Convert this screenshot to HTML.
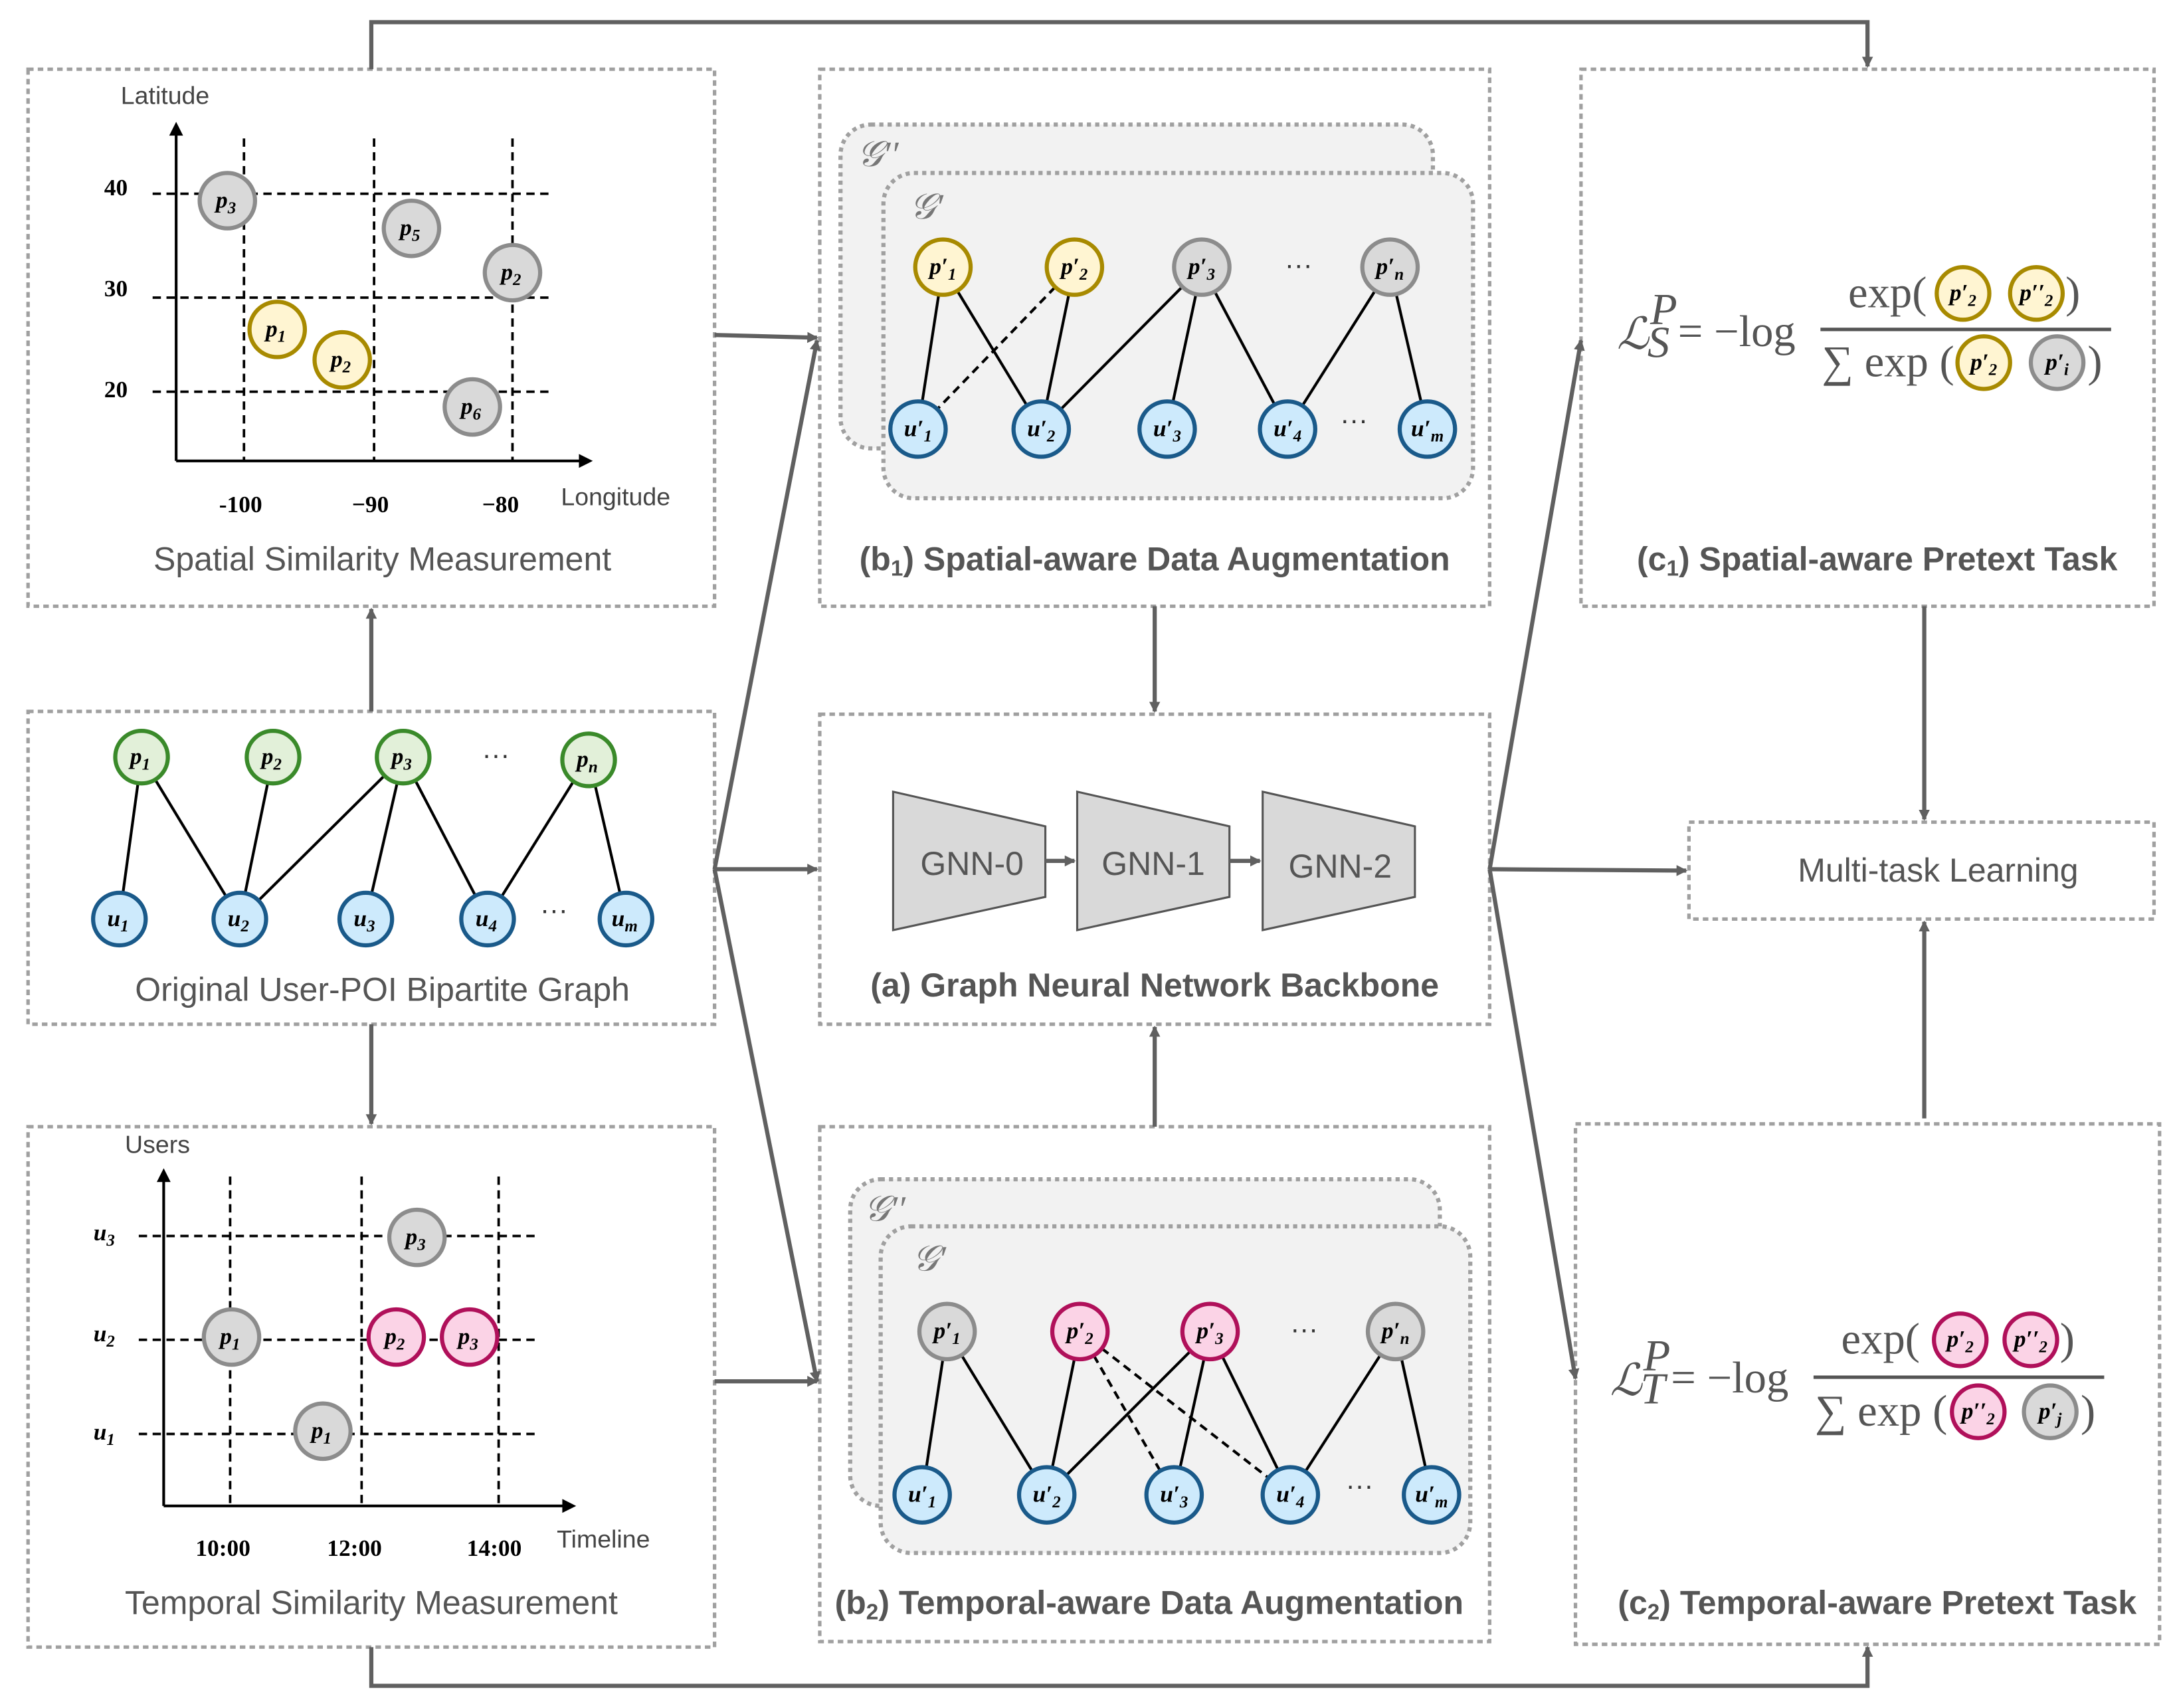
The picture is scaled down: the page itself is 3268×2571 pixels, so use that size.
<!DOCTYPE html>
<html><head><meta charset="utf-8"><style>
html,body{margin:0;padding:0;background:#fff;}
svg{display:block;}
.bx{fill:none;stroke:#a0a0a0;stroke-width:2.5;stroke-dasharray:4 3;}
.cn{stroke:#606060;stroke-width:3;fill:none;}
.ed{stroke:#000;stroke-width:2;}
.dd{stroke:#000;stroke-width:2;stroke-dasharray:6 4;}
.ax{stroke:#000;stroke-width:2;}
.gd{stroke:#000;stroke-width:1.8;stroke-dasharray:6 4;}
.g{fill:#d9d9d9;stroke:#8c8c8c;stroke-width:3;}
.y{fill:#fff5d2;stroke:#a88a00;stroke-width:3;}
.gr{fill:#e2f0d9;stroke:#3a8a2a;stroke-width:3;}
.b{fill:#cdeafc;stroke:#1a5a8a;stroke-width:3;}
.pk{fill:#fbd3e6;stroke:#b0105a;stroke-width:3;}
.nl{font-family:"Liberation Serif",serif;font-style:italic;font-weight:bold;font-size:17px;text-anchor:middle;fill:#000;}
.sb{font-size:12px;}
.tt{font-family:"Liberation Sans",sans-serif;font-size:24px;fill:#555;text-anchor:middle;}
.tb{font-family:"Liberation Sans",sans-serif;font-size:24px;font-weight:bold;fill:#555;text-anchor:middle;}
.lb{font-family:"Liberation Sans",sans-serif;font-size:18px;fill:#444;}
.num{font-family:"Liberation Serif",serif;font-size:17px;font-weight:bold;fill:#000;}
.fm{font-family:"Liberation Serif",serif;font-size:32px;fill:#555;}
.dots{font-family:"Liberation Sans",sans-serif;font-size:20px;fill:#333;text-anchor:middle;}
.gl{font-family:"Liberation Serif",serif;font-style:italic;font-size:26px;fill:#777;}
.gn{fill:#d9d9d9;stroke:#555;stroke-width:1.5;}
</style></head><body>
<svg width="3268" height="2571" viewBox="0 0 1568 1234" xmlns="http://www.w3.org/2000/svg">
<defs><marker id="ar" markerWidth="8" markerHeight="8" refX="7" refY="4" orient="auto" markerUnits="userSpaceOnUse"><path d="M0,0 L8,4 L0,8 Z" fill="#606060"/></marker></defs>

<rect class="bx" x="20" y="50" width="496" height="388"/>
<rect class="bx" x="20" y="514" width="496" height="226"/>
<rect class="bx" x="20" y="814" width="496" height="376"/>
<rect class="bx" x="592" y="50" width="484" height="388"/>
<rect class="bx" x="592" y="516" width="484" height="224"/>
<rect class="bx" x="592" y="814" width="484" height="372"/>
<rect class="bx" x="1142" y="50" width="414" height="388"/>
<rect class="bx" x="1220" y="594" width="336" height="70"/>
<rect class="bx" x="1138" y="812" width="422" height="376"/>

<path class="cn" d="M268,50 V16 H1349 V48" marker-end="url(#ar)"/>
<path class="cn" d="M268,1190 V1218 H1349 V1190" marker-end="url(#ar)"/>
<path class="cn" d="M268,514 V440" marker-end="url(#ar)"/>
<path class="cn" d="M268,740 V812" marker-end="url(#ar)"/>
<path class="cn" d="M516,242 L590,244" marker-end="url(#ar)"/>
<path class="cn" d="M516,628 L590,246" marker-end="url(#ar)"/>
<path class="cn" d="M516,628 L590,628" marker-end="url(#ar)"/>
<path class="cn" d="M516,628 L590,998" marker-end="url(#ar)"/>
<path class="cn" d="M516,998 L590,998" marker-end="url(#ar)"/>
<path class="cn" d="M834,438 V514" marker-end="url(#ar)"/>
<path class="cn" d="M834,814 V742" marker-end="url(#ar)"/>
<path class="cn" d="M1076,628 L1142,246" marker-end="url(#ar)"/>
<path class="cn" d="M1076,628 L1218,629" marker-end="url(#ar)"/>
<path class="cn" d="M1076,628 L1138,996" marker-end="url(#ar)"/>
<path class="cn" d="M1390,438 V592" marker-end="url(#ar)"/>
<path class="cn" d="M1390,808 V666" marker-end="url(#ar)"/>

<line class="ax" x1="127" y1="333" x2="127" y2="96"/><path d="M122,98 L127,88 L132,98Z"/>
<line class="ax" x1="127" y1="333" x2="420" y2="333"/><path d="M418,328 L428,333 L418,338Z"/>
<line class="gd" x1="176" y1="100" x2="176" y2="333"/>
<line class="gd" x1="270" y1="100" x2="270" y2="333"/>
<line class="gd" x1="370" y1="100" x2="370" y2="333"/>
<line class="gd" x1="110" y1="140" x2="398" y2="140"/>
<line class="gd" x1="110" y1="215" x2="398" y2="215"/>
<line class="gd" x1="110" y1="283" x2="398" y2="283"/>
<text class="num" x="75" y="141">40</text><text class="num" x="75" y="214">30</text><text class="num" x="75" y="287">20</text>
<text class="num" x="158" y="370">-100</text><text class="num" x="254" y="370">−90</text><text class="num" x="348" y="370">−80</text>
<text class="lb" x="87" y="75">Latitude</text><text class="lb" x="405" y="365">Longitude</text>
<circle class="g" cx="164" cy="145" r="20"/><text class="nl" x="163" y="150">p<tspan class="sb" dy="4">3</tspan></text>
<circle class="g" cx="297" cy="165" r="20"/><text class="nl" x="296" y="170">p<tspan class="sb" dy="4">5</tspan></text>
<circle class="g" cx="370" cy="197" r="20"/><text class="nl" x="369" y="202">p<tspan class="sb" dy="4">2</tspan></text>
<circle class="y" cx="200" cy="238" r="20"/><text class="nl" x="199" y="243">p<tspan class="sb" dy="4">1</tspan></text>
<circle class="y" cx="247" cy="260" r="20"/><text class="nl" x="246" y="265">p<tspan class="sb" dy="4">2</tspan></text>
<circle class="g" cx="341" cy="294" r="20"/><text class="nl" x="340" y="299">p<tspan class="sb" dy="4">6</tspan></text>
<text class="tt" x="276" y="412">Spatial Similarity Measurement</text>

<line class="ed" x1="102" y1="547" x2="86" y2="664"/>
<line class="ed" x1="102" y1="547" x2="173" y2="664"/>
<line class="ed" x1="197" y1="547" x2="173" y2="664"/>
<line class="ed" x1="291" y1="547" x2="173" y2="664"/>
<line class="ed" x1="291" y1="547" x2="264" y2="664"/>
<line class="ed" x1="291" y1="547" x2="352" y2="664"/>
<line class="ed" x1="425" y1="547" x2="352" y2="664"/>
<line class="ed" x1="425" y1="547" x2="452" y2="664"/>
<circle class="gr" cx="102" cy="547" r="19"/><text class="nl" x="101" y="552">p<tspan class="sb" dy="4">1</tspan></text>
<circle class="gr" cx="197" cy="547" r="19"/><text class="nl" x="196" y="552">p<tspan class="sb" dy="4">2</tspan></text>
<circle class="gr" cx="291" cy="547" r="19"/><text class="nl" x="290" y="552">p<tspan class="sb" dy="4">3</tspan></text>
<circle class="gr" cx="425" cy="549" r="19"/><text class="nl" x="424" y="554">p<tspan class="sb" dy="4">n</tspan></text>
<text class="dots" x="358" y="552">···</text>
<circle class="b" cx="86" cy="664" r="19"/><text class="nl" x="85" y="669">u<tspan class="sb" dy="4">1</tspan></text>
<circle class="b" cx="173" cy="664" r="19"/><text class="nl" x="172" y="669">u<tspan class="sb" dy="4">2</tspan></text>
<circle class="b" cx="264" cy="664" r="19"/><text class="nl" x="263" y="669">u<tspan class="sb" dy="4">3</tspan></text>
<circle class="b" cx="352" cy="664" r="19"/><text class="nl" x="351" y="669">u<tspan class="sb" dy="4">4</tspan></text>
<circle class="b" cx="452" cy="664" r="19"/><text class="nl" x="451" y="669">u<tspan class="sb" dy="4">m</tspan></text>
<text class="dots" x="400" y="664">···</text>
<text class="tt" x="276" y="723">Original User-POI Bipartite Graph</text>

<line class="ax" x1="118" y1="1088" x2="118" y2="852"/><path d="M113,854 L118,844 L123,854Z"/>
<line class="ax" x1="118" y1="1088" x2="408" y2="1088"/><path d="M406,1083 L416,1088 L406,1093Z"/>
<line class="gd" x1="166" y1="850" x2="166" y2="1088"/>
<line class="gd" x1="261" y1="850" x2="261" y2="1088"/>
<line class="gd" x1="360" y1="850" x2="360" y2="1088"/>
<line class="gd" x1="100" y1="893" x2="388" y2="893"/>
<line class="gd" x1="100" y1="968" x2="388" y2="968"/>
<line class="gd" x1="100" y1="1036" x2="388" y2="1036"/>
<text class="nl" x="75" y="896">u<tspan class="sb" dy="4">3</tspan></text>
<text class="nl" x="75" y="969">u<tspan class="sb" dy="4">2</tspan></text>
<text class="nl" x="75" y="1040">u<tspan class="sb" dy="4">1</tspan></text>
<text class="num" x="141" y="1124">10:00</text><text class="num" x="236" y="1124">12:00</text><text class="num" x="337" y="1124">14:00</text>
<text class="lb" x="90" y="833">Users</text><text class="lb" x="402" y="1118">Timeline</text>
<circle class="g" cx="301" cy="894" r="20"/><text class="nl" x="300" y="899">p<tspan class="sb" dy="4">3</tspan></text>
<circle class="g" cx="167" cy="966" r="20"/><text class="nl" x="166" y="971">p<tspan class="sb" dy="4">1</tspan></text>
<circle class="pk" cx="286" cy="966" r="20"/><text class="nl" x="285" y="971">p<tspan class="sb" dy="4">2</tspan></text>
<circle class="pk" cx="339" cy="966" r="20"/><text class="nl" x="338" y="971">p<tspan class="sb" dy="4">3</tspan></text>
<circle class="g" cx="233" cy="1034" r="20"/><text class="nl" x="232" y="1039">p<tspan class="sb" dy="4">1</tspan></text>
<text class="tt" x="268" y="1166">Temporal Similarity Measurement</text>

<rect x="607" y="90" width="428" height="234" rx="22" fill="#f2f2f2" stroke="#a0a0a0" stroke-width="3" stroke-dasharray="3 3"/>
<rect x="638" y="125" width="426" height="235" rx="22" fill="#f2f2f2" stroke="#a0a0a0" stroke-width="3" stroke-dasharray="3 3"/>
<text class="gl" x="619" y="120">𝒢′′</text><text class="gl" x="657" y="158">𝒢′</text>
<line class="ed" x1="681" y1="193" x2="663" y2="310"/>
<line class="ed" x1="681" y1="193" x2="752" y2="310"/>
<line class="ed" x1="776" y1="193" x2="752" y2="310"/>
<line class="dd" x1="776" y1="193" x2="663" y2="310"/>
<line class="ed" x1="868" y1="193" x2="752" y2="310"/>
<line class="ed" x1="868" y1="193" x2="843" y2="310"/>
<line class="ed" x1="868" y1="193" x2="930" y2="310"/>
<line class="ed" x1="1004" y1="193" x2="930" y2="310"/>
<line class="ed" x1="1004" y1="193" x2="1031" y2="310"/>
<circle class="y" cx="681" cy="193" r="20"/><text class="nl" x="681" y="198">p′<tspan class="sb" dy="4">1</tspan></text>
<circle class="y" cx="776" cy="193" r="20"/><text class="nl" x="776" y="198">p′<tspan class="sb" dy="4">2</tspan></text>
<circle class="g" cx="868" cy="193" r="20"/><text class="nl" x="868" y="198">p′<tspan class="sb" dy="4">3</tspan></text>
<circle class="g" cx="1004" cy="193" r="20"/><text class="nl" x="1004" y="198">p′<tspan class="sb" dy="4">n</tspan></text>
<text class="dots" x="938" y="198">···</text>
<circle class="b" cx="663" cy="310" r="20"/><text class="nl" x="663" y="315">u′<tspan class="sb" dy="4">1</tspan></text>
<circle class="b" cx="752" cy="310" r="20"/><text class="nl" x="752" y="315">u′<tspan class="sb" dy="4">2</tspan></text>
<circle class="b" cx="843" cy="310" r="20"/><text class="nl" x="843" y="315">u′<tspan class="sb" dy="4">3</tspan></text>
<circle class="b" cx="930" cy="310" r="20"/><text class="nl" x="930" y="315">u′<tspan class="sb" dy="4">4</tspan></text>
<circle class="b" cx="1031" cy="310" r="20"/><text class="nl" x="1031" y="315">u′<tspan class="sb" dy="4">m</tspan></text>
<text class="dots" x="978" y="310">···</text>
<text class="tb" x="834" y="412">(b<tspan font-size="16" dy="4">1</tspan><tspan dy="-4">) Spatial-aware Data Augmentation</tspan></text>

<polygon class="gn" points="645,572 755,597 755,648 645,672"/>
<polygon class="gn" points="778,572 888,597 888,648 778,672"/>
<polygon class="gn" points="912,572 1022,597 1022,648 912,672"/>
<text class="tt" x="702" y="632">GNN-0</text>
<text class="tt" x="833" y="632">GNN-1</text>
<text class="tt" x="968" y="634">GNN-2</text>
<path class="cn" d="M755,622 H776" marker-end="url(#ar)"/>
<path class="cn" d="M888,622 H910" marker-end="url(#ar)"/>
<text class="tb" x="834" y="720">(a) Graph Neural Network Backbone</text>

<rect x="614" y="852" width="426" height="236" rx="22" fill="#f2f2f2" stroke="#a0a0a0" stroke-width="3" stroke-dasharray="3 3"/>
<rect x="636" y="886" width="426" height="236" rx="22" fill="#f2f2f2" stroke="#a0a0a0" stroke-width="3" stroke-dasharray="3 3"/>
<text class="gl" x="624" y="882">𝒢′′</text><text class="gl" x="659" y="918">𝒢′</text>
<line class="ed" x1="684" y1="962" x2="666" y2="1080"/>
<line class="ed" x1="684" y1="962" x2="756" y2="1080"/>
<line class="ed" x1="780" y1="962" x2="756" y2="1080"/>
<line class="dd" x1="780" y1="962" x2="848" y2="1080"/>
<line class="dd" x1="780" y1="962" x2="932" y2="1080"/>
<line class="ed" x1="874" y1="962" x2="756" y2="1080"/>
<line class="ed" x1="874" y1="962" x2="848" y2="1080"/>
<line class="ed" x1="874" y1="962" x2="932" y2="1080"/>
<line class="ed" x1="1008" y1="962" x2="932" y2="1080"/>
<line class="ed" x1="1008" y1="962" x2="1034" y2="1080"/>
<circle class="g" cx="684" cy="962" r="20"/><text class="nl" x="684" y="967">p′<tspan class="sb" dy="4">1</tspan></text>
<circle class="pk" cx="780" cy="962" r="20"/><text class="nl" x="780" y="967">p′<tspan class="sb" dy="4">2</tspan></text>
<circle class="pk" cx="874" cy="962" r="20"/><text class="nl" x="874" y="967">p′<tspan class="sb" dy="4">3</tspan></text>
<circle class="g" cx="1008" cy="962" r="20"/><text class="nl" x="1008" y="967">p′<tspan class="sb" dy="4">n</tspan></text>
<text class="dots" x="942" y="967">···</text>
<circle class="b" cx="666" cy="1080" r="20"/><text class="nl" x="666" y="1085">u′<tspan class="sb" dy="4">1</tspan></text>
<circle class="b" cx="756" cy="1080" r="20"/><text class="nl" x="756" y="1085">u′<tspan class="sb" dy="4">2</tspan></text>
<circle class="b" cx="848" cy="1080" r="20"/><text class="nl" x="848" y="1085">u′<tspan class="sb" dy="4">3</tspan></text>
<circle class="b" cx="932" cy="1080" r="20"/><text class="nl" x="932" y="1085">u′<tspan class="sb" dy="4">4</tspan></text>
<circle class="b" cx="1034" cy="1080" r="20"/><text class="nl" x="1034" y="1085">u′<tspan class="sb" dy="4">m</tspan></text>
<text class="dots" x="982" y="1080">···</text>
<text class="tb" x="830" y="1166">(b<tspan font-size="16" dy="4">2</tspan><tspan dy="-4">) Temporal-aware Data Augmentation</tspan></text>

<text class="fm" x="1168" y="252" font-style="italic">ℒ</text>
<text class="fm" x="1192" y="234" font-size="20" font-style="italic">P</text>
<text class="fm" x="1190" y="258" font-size="20" font-style="italic">S</text>
<text class="fm" x="1212" y="250" font-size="34">= −log</text>
<line x1="1315" y1="238" x2="1525" y2="238" stroke="#555" stroke-width="2.5"/>
<text class="fm" x="1335" y="222">exp(</text>
<circle class="y" cx="1418" cy="212" r="19"/><text class="nl" x="1418" y="217">p′<tspan class="sb" dy="4">2</tspan></text>
<circle class="y" cx="1471" cy="212" r="19"/><text class="nl" x="1471" y="217">p′′<tspan class="sb" dy="4">2</tspan></text>
<text class="fm" x="1492" y="222">)</text>
<text class="fm" x="1316" y="272">∑ exp (</text>
<circle class="y" cx="1433" cy="262" r="19"/><text class="nl" x="1433" y="267">p′<tspan class="sb" dy="4">2</tspan></text>
<circle class="g" cx="1486" cy="262" r="19"/><text class="nl" x="1486" y="267">p′<tspan class="sb" dy="4">i</tspan></text>
<text class="fm" x="1508" y="272">)</text>
<text class="tb" x="1356" y="412">(c<tspan font-size="16" dy="4">1</tspan><tspan dy="-4">) Spatial-aware Pretext Task</tspan></text>

<text class="tt" x="1400" y="637">Multi-task Learning</text>

<text class="fm" x="1163" y="1008" font-style="italic">ℒ</text>
<text class="fm" x="1187" y="990" font-size="20" font-style="italic">P</text>
<text class="fm" x="1185" y="1014" font-size="20" font-style="italic">T</text>
<text class="fm" x="1207" y="1006" font-size="34">= −log</text>
<line x1="1310" y1="995" x2="1520" y2="995" stroke="#555" stroke-width="2.5"/>
<text class="fm" x="1330" y="978">exp(</text>
<circle class="pk" cx="1416" cy="968" r="19"/><text class="nl" x="1416" y="973">p′<tspan class="sb" dy="4">2</tspan></text>
<circle class="pk" cx="1467" cy="968" r="19"/><text class="nl" x="1467" y="973">p′′<tspan class="sb" dy="4">2</tspan></text>
<text class="fm" x="1488" y="978">)</text>
<text class="fm" x="1311" y="1030">∑ exp (</text>
<circle class="pk" cx="1429" cy="1020" r="19"/><text class="nl" x="1429" y="1025">p′′<tspan class="sb" dy="4">2</tspan></text>
<circle class="g" cx="1481" cy="1020" r="19"/><text class="nl" x="1481" y="1025">p′<tspan class="sb" dy="4">j</tspan></text>
<text class="fm" x="1503" y="1030">)</text>
<text class="tb" x="1356" y="1166">(c<tspan font-size="16" dy="4">2</tspan><tspan dy="-4">) Temporal-aware Pretext Task</tspan></text>
</svg>
</body></html>
